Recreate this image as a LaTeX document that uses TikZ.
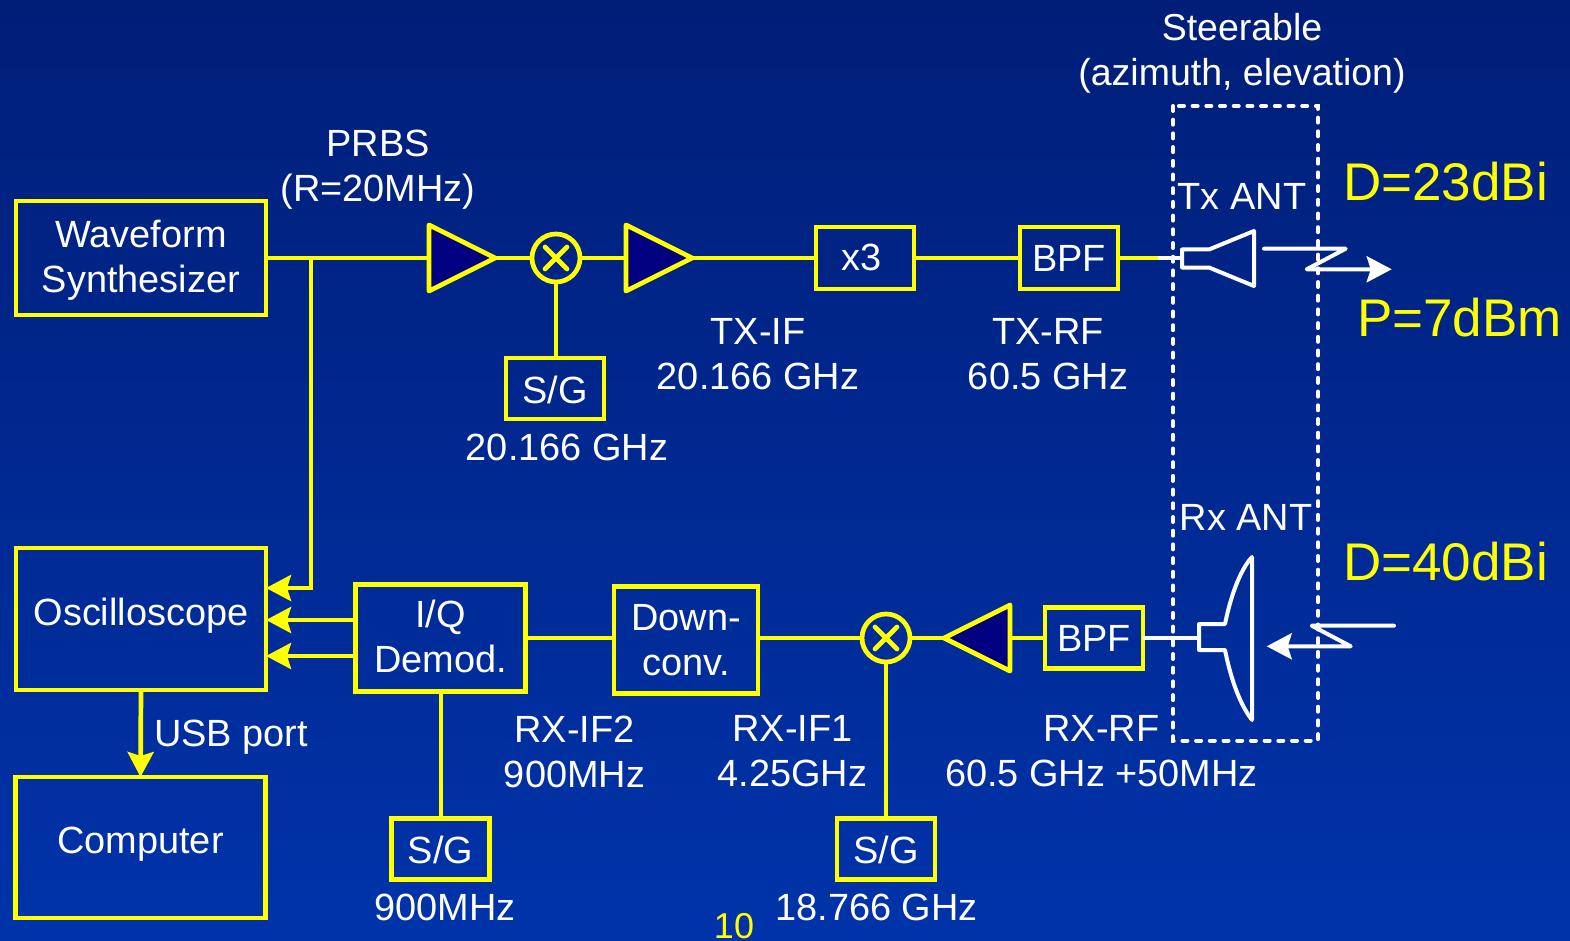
\documentclass[tikz,border=0pt]{standalone}
\usepackage{fontspec}
\setmainfont{Liberation Sans}
\usetikzlibrary{arrows.meta,shapes.geometric}
\definecolor{ylw}{RGB}{255,255,0}
\definecolor{bgtop}{RGB}{0,30,120}
\definecolor{bgbot}{RGB}{0,51,170}
\definecolor{ampfill}{RGB}{0,0,128}
% extra depth or height on a line moves it inside a vertically centred node
\newcommand\liftby[2]{\raisebox{0pt}[\height][\dimexpr\depth+#1\relax]{#2}}
\newcommand\dropby[2]{\raisebox{0pt}[\dimexpr\height+#1\relax][\depth]{#2}}
\tikzset{
  x=1pt,y=-1pt,
  lbl/.style={text=white,font=\fontsize{37.9}{45}\selectfont,align=center,inner sep=0pt},
  big/.style={text=ylw,font=\fontsize{53}{60}\selectfont,inner sep=0pt},
  blockbox/.style={draw=ylw,line width=4.7pt,text=white,font=\fontsize{37.9}{45}\selectfont,align=center,inner sep=0pt,outer sep=0pt,minimum width=#1},
  ampl/.style={draw=ylw,fill=ampfill,line width=4.7pt,line join=round,isosceles triangle,isosceles triangle stretches,minimum width=66pt,minimum height=66pt,inner sep=0pt,outer sep=0pt,anchor=apex},
  mixer/.style={draw=ylw,line width=4.7pt,circle,minimum size=48pt,inner sep=0pt,outer sep=0pt},
  wire/.style={draw=ylw,line width=4.7pt},
  wirearrow/.style={wire,-{Stealth[length=25pt,width=26pt,inset=4pt]}},
  ant/.style={draw=white,line width=4pt,line join=round,line cap=round},
  antarrow/.style={ant,-{Stealth[length=25pt,width=26pt,inset=4pt]}},
  feed/.style={draw=white,line width=3.5pt},
}
\begin{document}
\begin{tikzpicture}
\useasboundingbox (0,0) rectangle (1570,941);
\shade[top color=bgtop,bottom color=bgbot] (0,0) rectangle (1570,941);
% blocks
\node[blockbox=250pt,minimum height=114pt] (wave) at (141,258) {\dropby{4pt}{Waveform}\\Synthesizer};
\node[blockbox=250pt,minimum height=142pt] (osc) at (141,619) {\liftby{6pt}{Oscilloscope}};
\node[blockbox=250pt,minimum height=141pt] (comp) at (140.5,847.5) {\liftby{6pt}{Computer}};
\node[blockbox=98pt,minimum height=61pt] (sga) at (555,388.5) {\dropby{2pt}{S/G}};
\node[blockbox=98pt,minimum height=62pt] (xthree) at (865,258) {\liftby{2pt}{x3\hspace{6pt}}};
\node[blockbox=98pt,minimum height=62pt] (bpfa) at (1069,258) {BPF};
\node[blockbox=170pt,minimum height=107pt] (iq) at (440.5,638) {I/Q\\\liftby{4pt}{Demod.}};
\node[blockbox=144pt,minimum height=107pt] (down) at (686,640) {Down-\\conv.};
\node[blockbox=98pt,minimum height=61pt] (bpfb) at (1094,638) {BPF};
\node[blockbox=98pt,minimum height=61pt] (sgb) at (440.5,849) {\dropby{2pt}{S/G}};
\node[blockbox=98pt,minimum height=61pt] (sgc) at (886,849) {\dropby{2pt}{S/G}};
% amplifiers and mixers
\node[ampl] (ampa) at (495,258) {};
\node[ampl] (ampb) at (692,258) {};
\node[ampl,shape border rotate=180] (ampc) at (944,638) {};
\node[mixer] (mixa) at (556,258) {};
\node[mixer] (mixb) at (886,638) {};
\foreach \m in {mixa,mixb}{
  \draw[wire,line cap=round] ([shift={(-11,-11)}]\m.center) -- ([shift={(11,11)}]\m.center);
  \draw[wire,line cap=round] ([shift={(-11,11)}]\m.center) -- ([shift={(11,-11)}]\m.center);
}
% named junctions
\coordinate (branch) at (311,258);
\coordinate (branchb) at (311,588);
\coordinate (txfeed) at (1182,258);
\coordinate (txyl) at (1158,258);
\coordinate (rxfeed) at (1199,638);
% wires
\draw[wire] (wave.east) -- ([xshift=-66pt]ampa.apex);
\draw[wire] (ampa.apex) -- (mixa.west);
\draw[wire] (mixa.east) -- ([xshift=-66pt]ampb.apex);
\draw[wire] (ampb.apex) -- (xthree.west);
\draw[wire] (xthree.east) -- (bpfa.west);
\draw[wire] (bpfa.east) -- (txyl);
\draw[feed] (txyl) -- (txfeed);
\draw[wire] (mixa.south) -- (mixa.south |- sga.north);
\draw[wirearrow,line join=miter] (branch) -- (branchb) -- (osc.east |- branchb);
\draw[wirearrow] (iq.west |- 0,620) -- (osc.east |- 0,620);
\draw[wirearrow] (iq.west |- 0,656) -- (osc.east |- 0,656);
\draw[wirearrow] (osc.south) -- (comp.north);
\draw[wire] (iq.east |- 0,638) -- (down.west |- 0,638);
\draw[wire] (down.east |- 0,638) -- (mixb.west);
\draw[wire] (mixb.east) -- (ampc.apex);
\draw[wire] ([xshift=66pt]ampc.apex) -- (bpfb.west |- ampc.apex);
\draw[wire] (441,691) -- (441,816);
\draw[wire] (mixb.south) -- (sgc.north);
\draw[feed] (bpfb.east) -- (rxfeed);
% steerable box
\draw[draw=white,line width=4pt,line cap=round,dash pattern=on 5pt off 8.7pt] (1173,106) rectangle (1318,740.5);
% TX antenna
\draw[ant] (txfeed |- 0,249.5) -- (1209,249.5) -- (1254,231) -- (1254,286) -- (1209,267.5) -- (txfeed |- 0,267.5) -- cycle;
\draw[antarrow] (1264,248.7) -- (1345.7,248.7) -- (1306.7,269.3) -- (1391.7,269.3);
% RX antenna
\draw[ant] (rxfeed |- 0,624) -- (1225,624) .. controls (1232,590) and (1242,568) .. (1252,557) -- (1252,720) .. controls (1242,707) and (1232,685) .. (1225,650) -- (rxfeed |- 0,650) -- cycle;
\draw[antarrow] (1394,625.7) -- (1311.7,625.7) -- (1350.7,646.3) -- (1266.7,646.3);
% labels
\node[lbl] (prbs) at (378,170) {PRBS\\(R=20MHz)};
\node[lbl,font=\fontsize{37.5}{45}\selectfont] (steer) at (1242,53) {Steerable\\(azimuth, elevation)};
\node[lbl] (txant) at (1242,196.5) {Tx ANT};
\node[lbl] (rxant) at (1246,517.5) {Rx ANT};
\node[big] (da) at (1445.5,182) {D=23dBi};
\node[big] (pw) at (1459.5,318) {P=7dBm};
\node[big] (db) at (1445.5,561.5) {D=40dBi};
\node[lbl] (txif) at (758,354) {TX-IF\\20.166 GHz};
\node[lbl] (txrf) at (1048,354) {TX-RF\\60.5 GHz};
\node[lbl] (fa) at (567,447) {20.166 GHz};
\node[lbl] (usb) at (231,737) {USB port};
\node[lbl] (rxiftwo) at (574.5,752) {RX-IF2\\900MHz};
\node[lbl] (rxifone) at (792.5,751) {RX-IF1\\4.25GHz};
\node[lbl] (rxrf) at (1101.5,751) {RX-RF\\60.5 GHz +50MHz};
\node[lbl] (fb) at (445,907) {900MHz};
\node[lbl] (fc) at (876.5,907) {18.766 GHz};
\node[text=ylw,font=\fontsize{36}{40}\selectfont,inner sep=0pt] (pg) at (734,926.5) {10};
\end{tikzpicture}
\end{document}
